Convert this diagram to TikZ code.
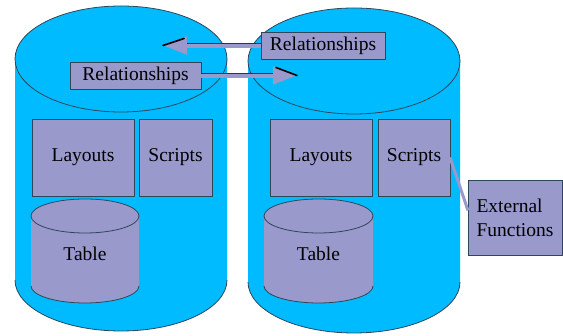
\documentclass[tikz,border=0pt]{standalone}
\usepackage{fontspec}
\newfontfamily\labelfont{Liberation Serif}
\usetikzlibrary{positioning, calc, arrows.meta}
\definecolor{cyan538}{RGB}{0,187,255}
\definecolor{lav538}{RGB}{153,153,204}
\definecolor{edge538}{RGB}{45,70,90}

\begin{document}
\begin{tikzpicture}[
    x = 1pt, y = 1pt,
    font = \labelfont\fontsize{19.5}{24}\selectfont,
    inner sep = 0, outer sep = 0,
    relarrow/.style = {draw = lav538, line width = 5pt, -{Triangle[length = 24pt, width = 17pt]}},
    topedge/.style = {draw = black!80, line width = 0.8pt},
    barb/.style = {draw = black, line width = 1.6pt, line cap = round},
    link/.style = {draw = lav538, line width = 3pt}
  ]
  \tikzstyle {box} = [draw = edge538, fill = lav538, line width = 0.8pt]
  \tikzstyle {rim} = [draw = edge538, line width = 0.8pt]
  \useasboundingbox (0,0) rectangle (563,336);
  % the two files
  \foreach \cx/\ty/\by in {121/277/56, 354/275/54}
    { \fill [cyan538] (\cx-106,\ty) -- (\cx-106,\by) arc [start angle = 180, end angle = 360, x radius = 106, y radius = 51] -- (\cx+106,\ty) -- cycle;
      \draw [rim] (\cx-106,\by) arc [start angle = 180, end angle = 360, x radius = 106, y radius = 51];
      \draw [rim, fill = cyan538] (\cx,\ty) ellipse [x radius = 106, y radius = 53]; } ;
  % tables
  \foreach \tx/\trx in {85/54, 318.5/54.5}
    { \fill [lav538] (\tx-\trx,120) -- (\tx-\trx,50) arc [start angle = 180, end angle = 360, x radius = \trx, y radius = 17] -- (\tx+\trx,120) -- cycle;
      \draw [rim] (\tx-\trx,50) arc [start angle = 180, end angle = 360, x radius = \trx, y radius = 17];
      \draw [box] (\tx,120) ellipse [x radius = \trx, y radius = 17]; } ;
  % place nodes
  \path node (tableL) at (85,82) {Table};
  \path node (tableR) at (318.5,82) {Table};
  \path node (layoutsL) [box, minimum width = 102pt, minimum height = 77pt] at (83,178.5) {Layouts};
  \path node (scriptsL) [box, minimum width = 73pt, minimum height = 77pt] at (175.5,178.5) {Scripts};
  \path node (layoutsR) [box, minimum width = 102pt, minimum height = 77pt] at (321,178.5) {Layouts};
  \path node (scriptsR) [box, minimum width = 72pt, minimum height = 77pt] at (414,178.5) {Scripts};
  \path node (extern) [box, align = left, minimum width = 94pt, minimum height = 75pt] at (515,118.5) {External\\Functions};
  \path node (relTop) [box, minimum width = 124pt, minimum height = 27pt] at (323,290.5) {Relationships};
  \path node (relLow) [box, minimum width = 131pt, minimum height = 27pt] at (135.5,260.5) {Relationships};
  \coordinate (tipTop) at (163,290.5);
  \coordinate (tipLow) at (297,260.5);
  % place edges
  \draw [relarrow] (relTop.west) -- (tipTop);
  \draw [topedge] ([yshift = 2.5pt]relTop.west) -- ($(tipTop)+(24,2.5)$);
  \draw [barb] (tipTop) -- ++(21,7);
  \draw [relarrow] (relLow.east) -- (tipLow);
  \draw [topedge] ([yshift = 2.5pt]relLow.east) -- ($(tipLow)+(-24,2.5)$);
  \draw [barb] (tipLow) -- ++(-21,8);
  \draw [link] (scriptsR.east) -- ([yshift = 7pt]extern.west);
\end{tikzpicture}
\end{document}
